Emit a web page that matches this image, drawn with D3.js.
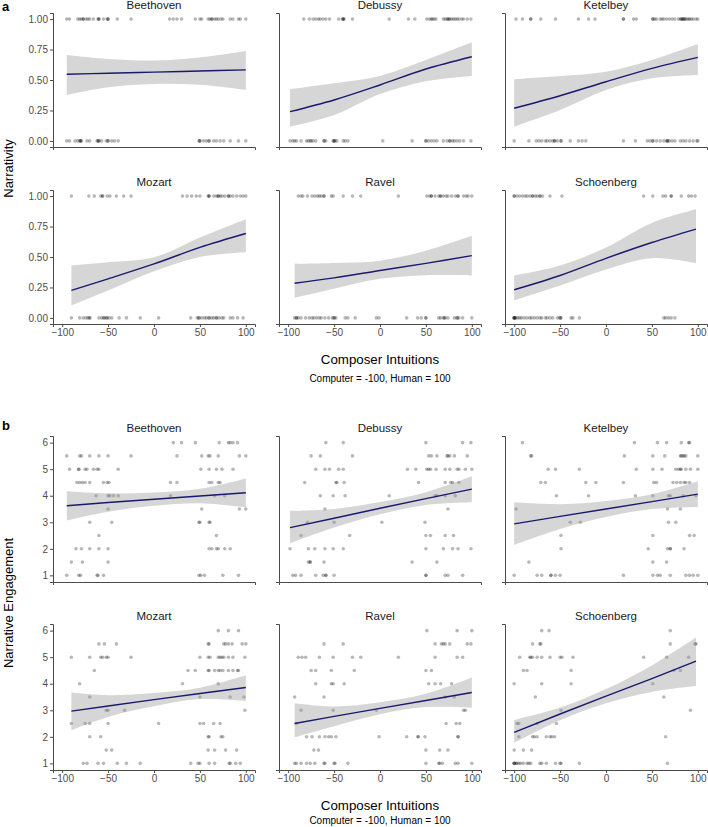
<!DOCTYPE html>
<html>
<head>
<meta charset="utf-8">
<script src="https://cdn.jsdelivr.net/npm/d3@7"></script>
<style>
  body { margin: 0; background: #fff; }
  svg { font-family: "Liberation Sans", Arial, sans-serif; }
</style>
</head>
<body>
<div id="chart"></div>
<script>
// Panel titles and ticks
var composers = ["Beethoven", "Debussy", "Ketelbey", "Mozart", "Ravel", "Schoenberg"];
var xTicks = [-100, -50, 0, 50, 100];
var narrTicks = [0, 0.25, 0.5, 0.75, 1];
var engTicks = [1, 2, 3, 4, 5, 6];

// a: Narrativity responses (x = composer intuition), split by answer 1 / 0
var narrBeethovenYes = [-95, -92, -83, -81, -79, -77, -77, -74, -72, -70, -66, -61, -60, -60, -55, -51, -50, -50, -40, -25, 17, 21, 25, 30, 45, 50, 52, 59, 61, 63, 63, 66, 68, 70, 73, 75, 83, 86, 92, 94, 100];
var narrBeethovenNo = [-95, -92, -86, -83, -81, -80, -80, -79, -73, -70, -62, -61, -60, -60, -57, -52, -50, -50, -46, -43, -39, 49, 50, 50, 54, 57, 60, 60, 65, 68, 72, 76, 83, 92, 100];
var narrDebussyYes = [-83, -77, -73, -70, -67, -65, -62, -59, -55, -45, -41, -40, -40, -39, -30, 10, 31, 38, 51, 54, 56, 57, 59, 61, 69, 71, 73, 74, 75, 76, 78, 80, 82, 84, 86, 89, 91, 95, 99];
var narrDebussyNo = [-98, -95, -93, -91, -86, -80, -78, -76, -75, -73, -70, -61, -61, -59, -51, -50, -50, -49, -47, -40, -38, -35, 3, 35, 50, 50, 53, 56, 59, 62, 69, 73, 76, 76, 79, 81, 84, 87, 91, 99];
var narrKetelbeyYes = [-98, -91, -82, -82, -71, -55, -30, -19, -12, 19, 19, 30, 33, 51, 51, 53, 55, 59, 61, 63, 66, 69, 72, 75, 79, 81, 82, 83, 84, 84, 86, 86, 88, 90, 91, 93, 95, 98, 100];
var narrKetelbeyNo = [-100, -84, -76, -73, -70, -66, -64, -61, -58, -56, -56, -53, -49, -49, -39, -30, -26, -22, 19, 32, 45, 48, 51, 51, 55, 59, 63, 66, 67, 67, 69, 72, 75, 81, 84, 87, 91, 95, 99, 100];
var narrMozartYes = [-90, -71, -65, -58, -56, -56, -51, -48, -41, -33, -25, 31, 36, 41, 46, 50, 59, 60, 60, 65, 68, 70, 70, 72, 74, 77, 81, 81, 83, 86, 90, 94, 97, 100];
var narrMozartNo = [-90, -81, -77, -74, -72, -70, -70, -60, -57, -55, -54, -52, -51, -49, -46, -38, -30, -15, 5, 40, 47, 49, 49, 52, 55, 57, 60, 60, 63, 65, 68, 68, 71, 74, 76, 83, 86, 91, 97];
var narrRavelYes = [-89, -86, -84, -79, -74, -71, -68, -66, -64, -61, -61, -53, -51, -40, -30, -21, 20, 51, 54, 56, 56, 60, 64, 66, 66, 69, 72, 74, 78, 82, 85, 85, 91, 94, 96, 100];
var narrRavelNo = [-93, -91, -91, -89, -86, -81, -77, -74, -72, -69, -66, -64, -60, -56, -52, -50, -50, -48, -38, -35, -27, -4, -1, 29, 41, 45, 50, 50, 64, 66, 69, 70, 71, 74, 81, 84, 84, 86, 90, 100];
var narrSchoenbergYes = [-100, -100, -97, -94, -91, -88, -86, -83, -80, -80, -77, -75, -72, -72, -69, -61, -48, 41, 51, 62, 65, 71, 71, 82, 90, 93, 97];
var narrSchoenbergNo = [-100, -100, -100, -100, -99, -98, -96, -94, -92, -89, -86, -83, -81, -78, -75, -72, -70, -66, -64, -61, -58, -53, -50, -50, -49, -38, -36, -29, 63, 65, 68, 71, 75];

// a: logistic fits, rows of [x, fit, lower, upper]
var narrFitBeethoven = [[-95, 0.547, 0.377, 0.705], [-50, 0.556, 0.44, 0.672], [0, 0.565, 0.467, 0.66], [50, 0.574, 0.46, 0.685], [100, 0.583, 0.418, 0.738]];
var narrFitDebussy = [[-98, 0.24, 0.117, 0.424], [-50, 0.336, 0.213, 0.473], [0, 0.459, 0.385, 0.533], [50, 0.59, 0.49, 0.664], [100, 0.691, 0.533, 0.809]];
var narrFitKetelbey = [[-100, 0.268, 0.117, 0.506], [-50, 0.371, 0.254, 0.533], [0, 0.486, 0.418, 0.568], [50, 0.596, 0.514, 0.664], [100, 0.686, 0.541, 0.795]];
var narrFitMozart = [[-90, 0.226, 0.103, 0.43], [-50, 0.321, 0.226, 0.456], [0, 0.443, 0.383, 0.497], [50, 0.579, 0.5, 0.66], [100, 0.693, 0.538, 0.81]];
var narrFitRavel = [[-93, 0.285, 0.166, 0.443], [-50, 0.329, 0.24, 0.45], [0, 0.389, 0.321, 0.47], [50, 0.448, 0.35, 0.552], [100, 0.511, 0.348, 0.674]];
var narrFitSchoenberg = [[-100, 0.231, 0.144, 0.348], [-50, 0.348, 0.266, 0.43], [0, 0.489, 0.397, 0.579], [50, 0.619, 0.49, 0.78], [98, 0.729, 0.448, 0.891]];

// b: Narrative Engagement responses, [rating, [x positions]]
var engBeethoven = [
  [6, [21, 30, 45, 71, 81, 83, 86, 91]],
  [5.5, [-95, -81, -79, -70, -60, -50, -25, 25, 52, 59, 61, 70, 93, 100]],
  [5, [-92, -82, -82, -75, -73, -66, -62, -60, -39, 51, 60, 68, 74, 86]],
  [4.5, [-84, -81, -78, -75, -70, -55, -51, -49, 18, 25, 60, 63, 70, 72]],
  [4, [-63, -50, -48, -44, -39, 18, 66, 77]],
  [3.5, [-50, 52, 93, 100]],
  [3, [-70, -46, 49, 50, 60, 61]],
  [2.5, [-60, 68]],
  [2, [-85, -79, -70, -60, -50, 60, 63, 68, 70, 77, 83]],
  [1.5, [-90, -78, -50]],
  [1, [-95, -82, -80, -62, -61, -55, 49, 51, 55, 75, 92]]
];
var engDebussy = [
  [6, [-59, -40, 50, 90, 99]],
  [5.5, [-75, -65, -30, 53, 56, 62, 73, 74, 76, 81, 95]],
  [5, [-70, -60, -55, -45, -40, 30, 39, 51, 53, 55, 61, 71, 76, 84, 86, 93, 100]],
  [4.5, [-82, -48, -47, -39, 42, 71, 77, 79, 86]],
  [4, [-65, -51, -38, 10, 60, 62, 71, 82]],
  [3.5, [-60, 74]],
  [3, [-79, -50, 2, 49]],
  [2.5, [-86, -33, 50, 55, 71, 80]],
  [2, [-98, -78, -71, -60, -51, -40, 50, 69, 79, 85, 99]],
  [1.5, [-78, -76, -76, -61, 35, 62]],
  [1, [-95, -92, -86, -70, -62, -59, -59, -50, 50, 50, 71, 74, 90]]
];
var engKetelbey = [
  [6, [-91, 31, 56, 66, 82, 90, 91]],
  [5.5, [-82, -81, 20, 51, 64, 81, 82, 84, 85, 87, 100]],
  [5, [-63, -55, -29, 33, 51, 61, 76, 79, 81, 82, 87, 92, 100]],
  [4.5, [-71, -66, -22, -11, 19, 52, 55, 73, 77, 81, 85, 87, 91]],
  [4, [-54, -19, 32, 51, 68, 70, 84, 98]],
  [3.5, [-98, 67, 81]],
  [3, [-39, -28, 68, 76]],
  [2.5, [-49, 51, 91, 96]],
  [2, [-49, 46, 67, 70, 70, 85]],
  [1.5, [-84, 51, 66]],
  [1, [-100, -75, -70, -60, -60, -55, -50, 19, 51, 56, 59, 70, 87, 91, 95, 100]]
];
var engMozart = [
  [6, [70, 81, 92]],
  [5.5, [-60, -54, -41, 59, 60, 76, 78, 81, 85, 96, 100]],
  [5, [-90, -70, -58, -56, -52, -50, -25, 50, 59, 61, 70, 72, 74, 76, 81, 86, 99]],
  [4.5, [-65, 37, 45, 59, 60, 66, 70, 72, 75, 81, 86, 91, 92]],
  [4, [-81, 31, 70]],
  [3.5, [-70, 50, 83, 98]],
  [3, [-52, -50, -32, 99]],
  [2.5, [-90, -75, -70, -50, 5, 50, 54, 65, 72]],
  [2, [-70, -58, 59, 60, 73, 75]],
  [1.5, [-52, -46, 59, 66, 78, 90]],
  [1, [-77, -73, -61, -55, -40, -30, -15, 40, 48, 50, 60, 66, 82, 83, 89, 94]]
];
var engRavel = [
  [6, [51, 84, 100]],
  [5.5, [-61, -40, 60, 67, 69, 71, 76, 95, 99]],
  [5, [-89, -85, -81, -66, -51, -30, -21, 20, 60, 84, 90]],
  [4.5, [-75, -70, -53, -28, 50, 56]],
  [4, [-70, -53, -51, -39, 53, 60, 66, 78]],
  [3.5, [-93, -61, 71, 81]],
  [3, [-86, -51, -4, 91, 93]],
  [2.5, [-91, 72, 83, 87]],
  [2, [-80, -74, -66, -60, -56, -53, -48, -1, 29, 41, 42, 49, 85, 85]],
  [1.5, [-72, -67, 50, 65, 74]],
  [1, [-93, -91, -86, -80, -76, -71, -61, -60, -50, -49, -35, 50, 64, 65, 68, 82, 85, 100]]
];
var engSchoenberg = [
  [6, [-70, -62, 70]],
  [5.5, [-80, -72, -71, 70, 97, 98]],
  [5, [-94, -83, -82, -80, -75, -70, -61, -50, -48, -36, 41, 66, 90]],
  [4.5, [-90, -86, -38, 74, 81]],
  [4, [-100, -70, -38, 51]],
  [3.5, [-77, 63]],
  [3, [-49, 92]],
  [2.5, [-97, -95, -75, -54]],
  [2, [-95, -80, -78, -75, -65, -61, -59, -56, 65]],
  [1.5, [-100, -90, -81]],
  [1, [-100, -100, -100, -98, -97, -95, -93, -90, -86, -84, -82, -72, -70, -65, -55, -50, -49, -29, 67]]
];

// b: linear fits, rows of [x, fit, lower, upper]
var engFitBeethoven = [[-95, 3.62, 3.07, 4.17], [-50, 3.745, 3.4, 4.09], [0, 3.87, 3.62, 4.12], [50, 3.99, 3.72, 4.26], [100, 4.11, 3.56, 4.65]];
var engFitDebussy = [[-98, 2.8, 2.21, 3.43], [-50, 3.15, 2.8, 3.5], [0, 3.53, 3.3, 3.76], [50, 3.89, 3.65, 4.13], [100, 4.25, 3.75, 4.73]];
var engFitKetelbey = [[-100, 2.94, 2.15, 3.75], [-50, 3.22, 2.75, 3.68], [0, 3.5, 3.2, 3.8], [50, 3.78, 3.5, 4.06], [100, 4.06, 3.58, 4.55]];
var engFitMozart = [[-90, 2.97, 2.25, 3.67], [-50, 3.16, 2.75, 3.57], [0, 3.4, 3.15, 3.65], [50, 3.63, 3.42, 3.85], [100, 3.86, 3.35, 4.32]];
var engFitRavel = [[-93, 2.5, 1.98, 3.26], [-50, 2.77, 2.4, 3.14], [0, 3.07, 2.85, 3.3], [50, 3.37, 3.12, 3.62], [100, 3.67, 3.09, 4.23]];
var engFitSchoenberg = [[-100, 2.17, 1.77, 2.63], [-50, 2.86, 2.62, 3.1], [0, 3.53, 3.26, 3.8], [50, 4.19, 3.69, 4.69], [98, 4.85, 3.91, 5.74]];

// Layout
var colX = [53, 279, 505];
var panelW = 202;
var narrRows = [13, 190], narrH = 134;
var engRows = [436, 624], engH = 146;

var svg = d3.select("#chart").append("svg")
  .attr("width", 708)
  .attr("height", 827);

var xScale = d3.scaleLinear().domain([-110, 110]).range([0, panelW]);
var yNarr = d3.scaleLinear().domain([-0.05, 1.05]).range([narrH, 0]);
var yEng = d3.scaleLinear().domain([0.75, 6.25]).range([engH, 0]);

// build point lists
function narrPoints(yes, no) {
  return yes.map(function (x) { return [x, 1]; }).concat(no.map(function (x) { return [x, 0]; }));
}
function engPoints(rows) {
  var out = [];
  rows.forEach(function (r) {
    r[1].forEach(function (x) { out.push([x, r[0]]); });
  });
  return out;
}

var narrData = [
  [narrPoints(narrBeethovenYes, narrBeethovenNo), narrFitBeethoven],
  [narrPoints(narrDebussyYes, narrDebussyNo), narrFitDebussy],
  [narrPoints(narrKetelbeyYes, narrKetelbeyNo), narrFitKetelbey],
  [narrPoints(narrMozartYes, narrMozartNo), narrFitMozart],
  [narrPoints(narrRavelYes, narrRavelNo), narrFitRavel],
  [narrPoints(narrSchoenbergYes, narrSchoenbergNo), narrFitSchoenberg]
];
var engData = [
  [engPoints(engBeethoven), engFitBeethoven],
  [engPoints(engDebussy), engFitDebussy],
  [engPoints(engKetelbey), engFitKetelbey],
  [engPoints(engMozart), engFitMozart],
  [engPoints(engRavel), engFitRavel],
  [engPoints(engSchoenberg), engFitSchoenberg]
];

function styleAxis(sel) {
  sel.attr("font-family", null).attr("font-size", null);
  sel.select(".domain").style("stroke", "#4a4a4a").style("stroke-width", 1);
  sel.selectAll(".tick line").style("stroke", "#4a4a4a");
  sel.selectAll(".tick text").style("fill", "#4d4d4d").style("font-size", "10px");
}

function drawPanel(px, py, h, yScale, yTicks, yFmt, points, fit, title, showX, showY, lineCurve) {
  var g = svg.append("g").attr("transform", "translate(" + px + "," + py + ")");

  // points
  g.selectAll("circle")
    .data(points)
    .enter()
    .append("circle")
    .attr("cx", function (d) { return xScale(d[0]); })
    .attr("cy", function (d) { return yScale(d[1]); })
    .attr("r", 1.8)
    .style("fill", "#000")
    .style("opacity", 0.28);

  // confidence band
  var area = d3.area()
    .curve(d3.curveCatmullRom.alpha(0.5))
    .x(function (d) { return xScale(d[0]); })
    .y0(function (d) { return yScale(d[2]); })
    .y1(function (d) { return yScale(d[3]); });
  g.append("path").datum(fit).attr("d", area)
    .style("fill", "#999999").style("opacity", 0.4);

  // fitted line
  var line = d3.line()
    .curve(lineCurve)
    .x(function (d) { return xScale(d[0]); })
    .y(function (d) { return yScale(d[1]); });
  g.append("path").datum(fit).attr("d", line)
    .style("fill", "none").style("stroke", "#191970").style("stroke-width", 1.4);

  // x axis
  var xAxis = d3.axisBottom(xScale).tickSizeOuter(0).tickSize(3).tickPadding(2);
  xAxis.tickValues(showX ? xTicks : []);
  g.append("g").attr("transform", "translate(0," + h + ")").call(xAxis).call(styleAxis);

  // y axis
  var yAxis = d3.axisLeft(yScale).tickSizeOuter(0).tickSize(3).tickPadding(2).tickFormat(yFmt);
  yAxis.tickValues(showY ? yTicks : []);
  g.append("g").call(yAxis).call(styleAxis);

  // strip title
  g.append("text")
    .attr("x", panelW / 2)
    .attr("y", -4.5)
    .attr("text-anchor", "middle")
    .style("font-size", "11.5px")
    .style("fill", "#1a1a1a")
    .text(title);
}

composers.forEach(function (name, i) {
  var c = i % 3, r = Math.floor(i / 3);
  drawPanel(colX[c], narrRows[r], narrH, yNarr, narrTicks, d3.format(".2f"),
    narrData[i][0], narrData[i][1], name, r === 1, c === 0, d3.curveCatmullRom.alpha(0.5));
  drawPanel(colX[c], engRows[r], engH, yEng, engTicks, d3.format("d"),
    engData[i][0], engData[i][1], name, r === 1, c === 0, d3.curveLinear);
});

// panel letters
svg.append("text").attr("x", 2).attr("y", 11).style("font-size", "13px").style("font-weight", "bold").text("a");
svg.append("text").attr("x", 2).attr("y", 430).style("font-size", "13px").style("font-weight", "bold").text("b");

// y titles
svg.append("text")
  .attr("transform", "translate(13," + (narrRows[0] + (narrRows[1] + narrH - narrRows[0]) / 2) + ") rotate(-90)")
  .attr("text-anchor", "middle")
  .style("font-size", "13px")
  .text("Narrativity");
svg.append("text")
  .attr("transform", "translate(13," + (engRows[0] + (engRows[1] + engH - engRows[0]) / 2) + ") rotate(-90)")
  .attr("text-anchor", "middle")
  .style("font-size", "13px")
  .text("Narrative Engagement");

// x titles
var midX = colX[0] + (colX[2] + panelW - colX[0]) / 2;
[[364, 381.5], [810, 823.5]].forEach(function (pos) {
  svg.append("text").attr("x", midX).attr("y", pos[0]).attr("text-anchor", "middle")
    .style("font-size", "13.3px").text("Composer Intuitions");
  svg.append("text").attr("x", midX).attr("y", pos[1]).attr("text-anchor", "middle")
    .style("font-size", "10px").text("Computer = -100, Human = 100");
});
</script>
</body>
</html>
